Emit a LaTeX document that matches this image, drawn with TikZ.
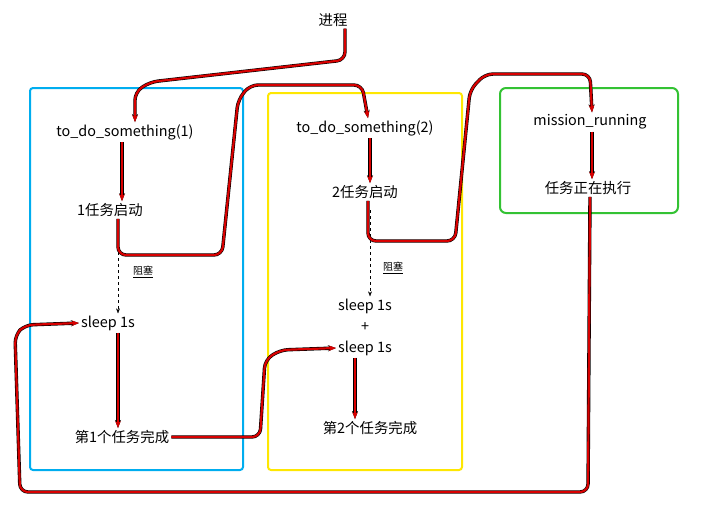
\documentclass[tikz,border=0pt]{standalone}
\usepackage{fontspec}
\setmainfont{Noto Sans CJK SC}
\usetikzlibrary{positioning,arrows.meta}

\tikzset{
  redpath/.style={draw=red!85!black,line width=2.2pt,rounded corners=8pt,-{Stealth[length=7pt]},
    preaction={draw=black,line width=3.4pt,-{Stealth[length=8pt]}}},
  block/.style={dashed,-{Stealth[length=5pt]},thin},
  txt/.style={font=\Large,inner sep=2pt}
}

\begin{document}
\begin{tikzpicture}[x=1pt,y=-1pt]
\useasboundingbox (0,0) rectangle (717,509);
% boxes
\draw[cyan,line width=2pt,rounded corners=3pt] (30,88) rectangle (243,470);
\draw[yellow!90!orange,line width=2pt,rounded corners=3pt] (268,93) rectangle (462,470);
\draw[green!70!black!80,line width=2pt,rounded corners=6pt] (500,88) rectangle (678,213);
% nodes
\node[txt] (proc) at (333,20) {进程};
\node[txt] (todo1) at (125,132) {to\_do\_something(1)};
\node[txt] (start1) at (110,210) {1任务启动};
\node[txt] (sleepa) at (108,323) {sleep 1s};
\node[txt] (done1) at (122,437) {第1个任务完成};
\node[txt] (todo2) at (365,128) {to\_do\_something(2)};
\node[txt] (start2) at (365,192) {2任务启动};
\node[txt] (sleepb) at (365,306) {sleep 1s};
\node[txt] (plus) at (365,327) {+};
\node[txt] (sleepc) at (365,348) {sleep 1s};
\node[txt] (done2) at (370,428) {第2个任务完成};
\node[txt] (run) at (590,122) {mission\_running};
\node[txt] (exec) at (588,188) {任务正在执行};
\node[font=\normalsize] (blk1) at (143,272) {\underline{阻塞}};
\node[font=\normalsize] (blk2) at (393,268) {\underline{阻塞}};
% blocking
\draw[block] (118,228) -- (118,255) -- (sleepa.north -| 118,0);
\draw[block] (370,210) -- (370,240) -- (sleepb.north -| 370,0);
% red flow
\draw[redpath] (proc.south -| 345,0) -- (345,60) -- (150,82) -- (135,92) -- (todo1.north -| 135,0);
\draw[redpath] (todo1.south -| 122,0) -- (start1.north -| 122,0);
\draw[redpath] (start1.south -| 118,0) -- (118,255) -- (222,255) -- (238,100) -- (250,85) -- (362,85) -- (todo2.north -| 368,0);
\draw[redpath] (todo2.south -| 370,0) -- (start2.north -| 370,0);
\draw[redpath] (start2.south -| 368,0) -- (368,241) -- (455,241) -- (470,90) -- (485,74) -- (590,74) -- (run.north -| 592,0);
\draw[redpath] (run.south -| 592,0) -- (exec.north -| 592,0);
\draw[redpath] (exec.south -| 590,0) -- (588,492) -- (20,492) -- (15,335) -- (25,325) -- (sleepa.west);
\draw[redpath] (sleepa.south -| 118,0) -- (done1.north -| 118,0);
\draw[redpath] (done1.east) -- (260,437) -- (265,360) -- (280,350) -- (sleepc.west);
\draw[redpath] (sleepc.south -| 355,0) -- (done2.north -| 355,0);
\end{tikzpicture}
\end{document}
